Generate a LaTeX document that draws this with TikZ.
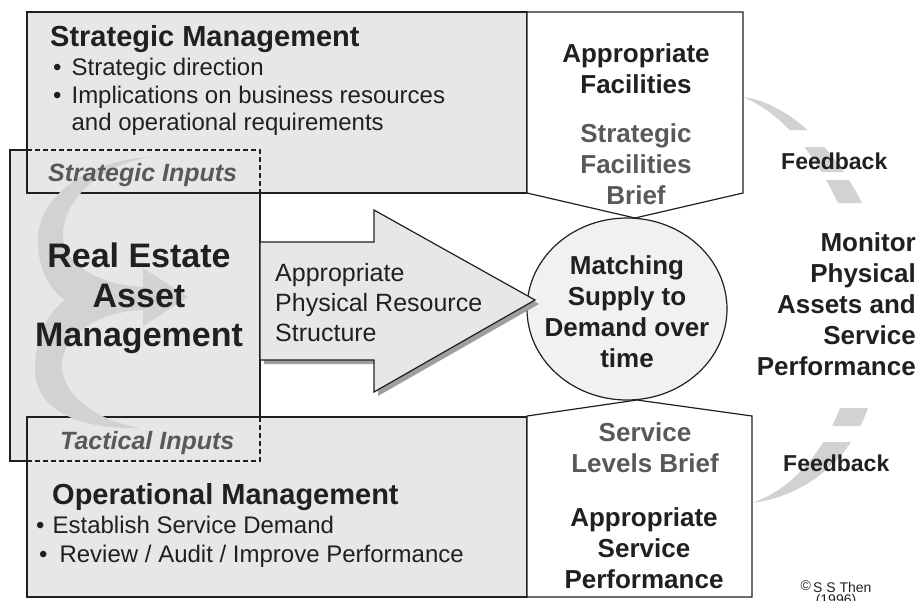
\documentclass[tikz,border=0pt]{standalone}
\usepackage{fontspec}
\setmainfont{Liberation Sans}
\usetikzlibrary{shapes.geometric}

\definecolor{ink}{HTML}{231F20}
\definecolor{inkgray}{HTML}{58595B}
\definecolor{boxgray}{HTML}{E6E7E8}
\definecolor{circgray}{HTML}{F1F1F2}
\definecolor{swoosh}{HTML}{D1D2D4}
\definecolor{shadowgray}{HTML}{9D9FA2}

\tikzset{
  panel/.style={draw=ink, line width=1.2pt, fill=boxgray},
  outline/.style={draw=ink, line width=1.2pt, fill=white},
  inputline/.style={draw=ink, line width=1.1pt, dash pattern=on 5pt off 3pt},
  heading/.style={inner sep=0pt, text=ink, font=\bfseries\fontsize{29pt}{33pt}\selectfont},
  bullets/.style={inner sep=0pt, text=ink, align=left, font=\fontsize{24pt}{27.5pt}\selectfont},
  inputs/.style={inner sep=0pt, text=inkgray, font=\bfseries\itshape\fontsize{25pt}{30pt}\selectfont},
  boldtext/.style={inner sep=0pt, text=ink, align=center, font=\bfseries\fontsize{26pt}{31pt}\selectfont},
  graytext/.style={boldtext, text=inkgray},
  feedback/.style={inner sep=0pt, text=ink, font=\bfseries\fontsize{23pt}{27pt}\selectfont}
}

\begin{document}
\begin{tikzpicture}[x=1pt,y=-1pt]
    \useasboundingbox (0,0) rectangle (920,600);
    %% Real estate asset management, on left
    \draw[panel] (10,150) rectangle (260,461);
    %% Strategic and operational management, top and bottom
    \draw[panel] (27,12) rectangle (527,193);
    \draw[panel] (27,417) rectangle (527,597);
    \draw[inputline] (27,150) -- (260,150) -- (260,193);
    \draw[inputline] (260,417) -- (260,461) -- (27,461);
    %% Briefs, on right
    \draw[outline] (527,12) -- (743,12) -- (743,193) -- (635,218) -- (527,193) -- cycle;
    \draw[outline] (527,597) -- (752,597) -- (752,416) -- (637,400) -- (527,416) -- cycle;
    \node[ellipse, draw=ink, line width=1.2pt, fill=circgray, minimum width=200pt,
        minimum height=182pt, inner sep=0pt] (match) at (627,309) {};
    %% Arrow with its shadow
    \fill[shadowgray, shift={(4,4)}] (260,242) -- (374,242) -- (374,210) -- (535,300)
        -- (374,392) -- (374,360) -- (260,360) -- cycle;
    \draw[panel] (260,242) -- (374,242) -- (374,210) -- (535,300)
        -- (374,392) -- (374,360) -- (260,360) -- cycle;
    %% Swooshes
    \fill[swoosh] (150,157) .. controls (90,160) and (38,195) .. (38,240)
        .. controls (38,270) and (50,290) .. (65,300)
        .. controls (45,315) and (35,340) .. (35,370)
        .. controls (35,410) and (80,430) .. (140,428)
        .. controls (95,420) and (62,395) .. (62,365)
        .. controls (62,335) and (100,311) .. (143,310)
        -- (143,326) -- (188,297) -- (143,268) -- (143,287)
        .. controls (100,285) and (63,265) .. (63,235)
        .. controls (63,200) and (100,165) .. (150,157) -- cycle;
    \begin{scope}
        \clip (740,90) rectangle (880,130) (740,147) rectangle (880,172)
            (740,180) rectangle (880,205);
        \fill[swoosh] (743,97) .. controls (790,103) and (835,150) .. (862,203)
            -- (838,203) .. controls (815,155) and (785,115) .. (743,97) -- cycle;
    \end{scope}
    \begin{scope}
        \clip (745,400) rectangle (880,426) (745,442) rectangle (880,510);
        \fill[swoosh] (752,503) .. controls (800,497) and (848,465) .. (868,408)
            -- (840,408) .. controls (822,455) and (790,490) .. (752,503) -- cycle;
    \end{scope}
    %% Text
    \node[boldtext] (matchtext) at ([yshift=-3pt]match.center)
        {Matching\\Supply to\\Demand over\\time};
    \node[heading, anchor=north west] (stratman) at (50,25) {Strategic Management};
    \node[bullets, anchor=north west] (stratlist) at (53,58)
        {\textbullet\hspace{10pt}Strategic direction\\
         \textbullet\hspace{10pt}Implications on business resources\\
         \hphantom{\textbullet\hspace{10pt}}and operational requirements};
    \node[inputs, anchor=north west] (stratin) at (48,163) {Strategic Inputs};
    \node[inputs, anchor=north west] (tactin) at (60,431) {Tactical Inputs};
    \node[boldtext, anchor=north, font=\bfseries\fontsize{34pt}{39.5pt}\selectfont]
        (ream) at (139,243) {Real Estate\\Asset\\Management};
    \node[bullets, anchor=north west, font=\fontsize{25pt}{30pt}\selectfont]
        (prs) at (275,263) {Appropriate\\Physical Resource\\Structure};
    \node[heading, anchor=north west] (opman) at (52,483) {Operational Management};
    \node[bullets, anchor=north west, font=\fontsize{24pt}{29pt}\selectfont]
        (oplist) at (36,516)
        {\textbullet\hspace{8pt}Establish Service Demand\\
         \hspace{3pt}\textbullet\hspace{12pt}Review / Audit / Improve Performance};
    \node[boldtext, anchor=north] (facil) at (636,43) {Appropriate\\Facilities};
    \node[graytext, anchor=north] (sfb) at (636,123) {Strategic\\Facilities\\Brief};
    \node[graytext, anchor=north] (slb) at (645,422) {Service\\Levels Brief};
    \node[boldtext, anchor=north] (asp) at (644,507) {Appropriate\\Service\\Performance};
    \node[boldtext, anchor=north east, align=right] (monitor) at (916,232)
        {Monitor\\Physical\\Assets and\\Service\\Performance};
    \node[feedback, anchor=north west] (fbtop) at (781,153) {Feedback};
    \node[feedback, anchor=north west] (fbbot) at (783,455) {Feedback};
    \node[inner sep=0pt, text=ink, align=center, font=\fontsize{14pt}{12pt}\selectfont,
        anchor=north] (copy) at (836,581) {\raisebox{2pt}{\textcopyright}\,S S Then\\(1996)};
\end{tikzpicture}
\end{document}
